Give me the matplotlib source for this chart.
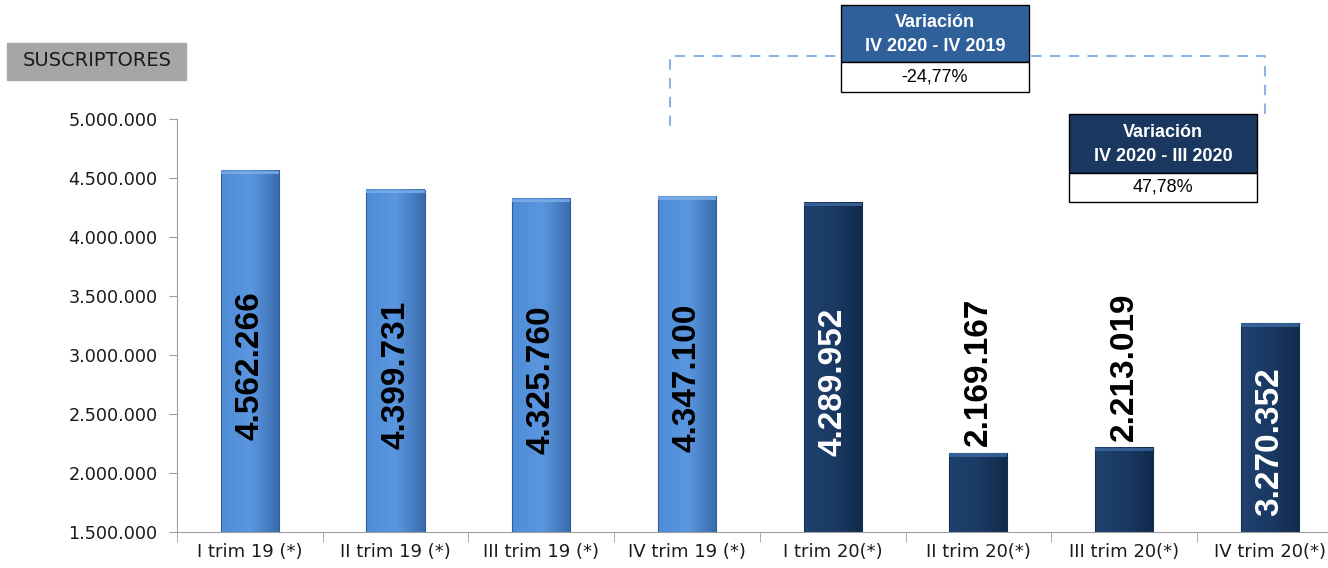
import numpy as np
import matplotlib
matplotlib.use("Agg")
import matplotlib.pyplot as plt
from matplotlib.ticker import FuncFormatter, MultipleLocator, FixedLocator
from matplotlib.patches import Rectangle
from matplotlib.lines import Line2D
from matplotlib.colors import LinearSegmentedColormap

plt.rcParams['font.family'] = ['DejaVu Sans']

# datos
trimestres = ['I trim 19 (*)', 'II trim 19 (*)', 'III trim 19 (*)', 'IV trim 19 (*)',
              'I trim 20(*)', 'II trim 20(*)', 'III trim 20(*)', 'IV trim 20(*)']
suscriptores = [4562266, 4399731, 4325760, 4347100, 4289952, 2169167, 2213019, 3270352]
etiquetas = ['4.562.266', '4.399.731', '4.325.760', '4.347.100',
             '4.289.952', '2.169.167', '2.213.019', '3.270.352']
es_2020 = [False, False, False, False, True, True, True, True]
var_titulos = ['Variación\nIV 2020 - IV 2019', 'Variación\nIV 2020 - III 2020']
var_valores = ['-24,77%', '47,78%']

W, H = 1328, 568
fig = plt.figure(figsize=(W / 100, H / 100), dpi=100)
ax = fig.add_axes([177 / W, (H - 532) / H, (W - 177) / W, 413 / H])

x = np.arange(len(trimestres))
bars = ax.bar(x, suscriptores, width=0.4, bottom=0, color='none', edgecolor='none', zorder=2)

cmap_claro = LinearSegmentedColormap.from_list('c', ['#4f8cd6', '#5a97e0', '#3a6cad'])
cmap_osc = LinearSegmentedColormap.from_list('o', ['#1f416f', '#1a3a64', '#112a4b'])
grad = np.linspace(0, 1, 64).reshape(1, -1)
for b, osc in zip(bars, es_2020):
    x0, w, top = b.get_x(), b.get_width(), b.get_height()
    cm = cmap_osc if osc else cmap_claro
    ax.imshow(grad, cmap=cm, aspect='auto', extent=(x0, x0 + w, 1500000, top), zorder=2)
    ax.add_patch(Rectangle((x0, 1500000), w, top - 1500000, fill=False,
                           edgecolor='#16304f' if osc else '#2f5e9c', lw=0.8, zorder=3))
    # bisel superior
    ax.add_patch(Rectangle((x0, top - 30000), w, 30000,
                           color='#3d6aa3' if osc else '#7fb0ea', alpha=0.8, lw=0, zorder=3))

for i, (v, lab) in enumerate(zip(suscriptores, etiquetas)):
    if v > 3000000:
        ax.text(x[i], (v + 1500000) / 2 - 120000, lab, rotation=90, ha='center', va='center',
                fontsize=24, fontweight='bold', family='Liberation Sans',
                color='white' if es_2020[i] else 'black', zorder=4)
    else:
        ax.text(x[i], v + 60000, lab, rotation=90, ha='center', va='bottom',
                fontsize=24, fontweight='bold', family='Liberation Sans', color='black', zorder=4)

ax.set_ylim(1500000, 5000000)
ax.set_xlim(-0.5, -0.5 + (W - 177) / 145.7)
ax.yaxis.set_major_locator(MultipleLocator(500000))
ax.yaxis.set_major_formatter(FuncFormatter(lambda v, p: f'{int(v):,}'.replace(',', '.')))
ax.set_xticks(x)
ax.set_xticklabels(trimestres)
ax.xaxis.set_minor_locator(FixedLocator(np.arange(-0.5, len(x), 1)))
ax.tick_params(axis='x', which='major', length=0, pad=8, labelsize=13, labelcolor='#1a1a1a')
ax.tick_params(axis='x', which='minor', length=7, color='#a0a0a0')
ax.tick_params(axis='y', length=6, color='#a0a0a0', labelsize=12.7, labelcolor='#1a1a1a', pad=8)
for s in ['top', 'right']:
    ax.spines[s].set_visible(False)
for s in ['left', 'bottom']:
    ax.spines[s].set_color('#a0a0a0')

# etiqueta SUSCRIPTORES
fig.patches.append(Rectangle((7 / W, (H - 80) / H), 179 / W, 37 / H, transform=fig.transFigure,
                             color='#a6a6a6', zorder=1))
fig.text(97 / W, (H - 60) / H, 'SUSCRIPTORES', ha='center', va='center', fontsize=14, color='#1a1a1a')

# corchete punteado
def fx(px): return px / W
def fy(py): return (H - py) / H
fig.add_artist(Line2D([fx(670), fx(670), fx(1265), fx(1265)], [fy(126), fy(56), fy(56), fy(122)],
                      transform=fig.transFigure, color='#8db3e2', lw=1.5, ls=(0, (5, 4)), zorder=1))

# cuadros de variacion
cajas = [(841, 5, 62, 92, '#30609a'), (1069, 114, 173, 202, '#1a3760')]
for (x0, y0, ym, y1, col), tit, val in zip(cajas, var_titulos, var_valores):
    fig.patches.append(Rectangle((fx(x0), fy(ym)), 188 / W, (ym - y0) / H, transform=fig.transFigure,
                                 facecolor=col, edgecolor='black', lw=1, zorder=5))
    fig.patches.append(Rectangle((fx(x0), fy(y1)), 188 / W, (y1 - ym) / H, transform=fig.transFigure,
                                 facecolor='white', edgecolor='black', lw=1, zorder=5))
    fig.text(fx(x0 + 94), fy((y0 + ym) / 2 + 1), tit, ha='center', va='center', fontsize=13,
             fontweight='bold', color='white', family='Liberation Sans', linespacing=1.6, zorder=6)
    fig.text(fx(x0 + 94), fy((ym + y1) / 2), val, ha='center', va='center', fontsize=13,
             color='black', family='Liberation Sans', zorder=6)

fig.savefig('out.png', dpi=100)
